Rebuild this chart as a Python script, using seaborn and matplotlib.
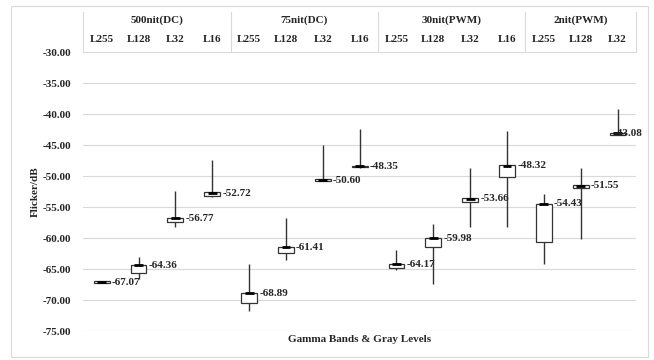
import numpy as np
import pandas as pd
import seaborn as sns
import matplotlib.pyplot as plt
from matplotlib.patches import Rectangle
from matplotlib.lines import Line2D

# Data
groups = ["500nit(DC)", "75nit(DC)", "30nit(PWM)", "2nit(PWM)"]
group_levels = [["L255", "L128", "L32", "L16"],
                ["L255", "L128", "L32", "L16"],
                ["L255", "L128", "L32", "L16"],
                ["L255", "L128", "L32"]]
labels = [-67.07, -64.36, -56.77, -52.72, -68.89, -61.41, -50.60, -48.35,
          -64.17, -59.98, -53.66, -48.32, -54.43, -51.55, -43.08]
box_top = [-66.95, -64.30, -56.75, -52.60, -68.85, -61.35, -50.50, -48.30,
           -64.15, -59.90, -53.50, -48.20, -54.40, -51.45, -42.95]
box_bot = [-67.15, -65.60, -57.40, -53.10, -70.40, -62.40, -50.75, -48.55,
           -64.75, -61.45, -54.10, -50.10, -60.65, -51.90, -43.40]
high = [-66.95, -63.00, -52.30, -47.30, -64.10, -56.70, -45.00, -42.40,
        -61.90, -57.70, -48.60, -42.70, -52.85, -48.60, -39.20]
low = [-67.15, -66.60, -58.20, -53.30, -71.80, -63.50, -50.80, -48.60,
       -65.10, -67.30, -58.10, -58.10, -64.15, -60.10, -43.40]
y_ticks = [-30, -35, -40, -45, -50, -55, -60, -65, -70, -75]

df = pd.DataFrame({"label": labels, "top": box_top, "bot": box_bot,
                   "high": high, "low": low})
df["x"] = np.arange(len(df))

sns.set_theme(style="white")
plt.rcParams["font.family"] = ["Liberation Serif", "DejaVu Serif"]
plt.rcParams["font.weight"] = "bold"

W, H = 654, 360
fig = plt.figure(figsize=(W / 100, H / 100), dpi=100)
L, R, T, B = 83.3, 636, 52.3, 331.3
ax = fig.add_axes([L / W, 1 - B / H, (R - L) / W, (B - T) / H])

# outer chart border
fig.patches.append(Rectangle((11 / W, 3 / H), 637 / W, 351 / H, transform=fig.transFigure,
                             fill=False, edgecolor="#d9d9d9", lw=0.8))

ax.set_xlim(-0.5, len(df) - 0.5)
ax.set_ylim(-75, -30)
for v in y_ticks:
    ax.axhline(v, color="#d9d9d9", lw=0.8, zorder=0)

bw = 0.43
ax.vlines(df["x"], df["low"], df["high"], color="#333333", lw=1.0, zorder=2)
ax.bar(df["x"], df["top"] - df["bot"], bottom=df["bot"], width=bw,
       color="white", edgecolor="#333333", lw=0.9, zorder=3)
ax.hlines(df["label"], df["x"] - 0.12, df["x"] + 0.12, color="black", lw=2.0, zorder=4)
xmax_label = len(df) - 1 - 0.1  # Excel pulls the last label back inside the chart
for _, r in df.iterrows():
    tx = min(r["x"] + bw / 2 + 0.06, xmax_label)
    ax.text(tx, r["label"], f"{r['label']:.2f}", fontsize=8,
            fontweight="bold", va="center", ha="left", zorder=5)

ax.set_yticks(y_ticks)
ax.set_yticklabels([f"{v:.2f}" for v in y_ticks], fontsize=8, fontweight="bold")
ax.tick_params(axis="y", length=0, pad=9)
ax.set_xticks([])
sns.despine(ax=ax, left=True, bottom=True)
ax.set_ylabel("Flicker/dB", fontsize=8, fontweight="bold", labelpad=2)

# header table
def fx(px):
    return px / W

def fy(py):
    return 1 - py / H

cw = (R - L) / len(df)
pos = 0
bounds = [L]
for g, lv in zip(groups, group_levels):
    x0 = L + pos * cw
    x1 = L + (pos + len(lv)) * cw
    fig.text(fx((x0 + x1) / 2), fy(20), g, fontsize=8, fontweight="bold", ha="center", va="center")
    for k, name in enumerate(lv):
        fig.text(fx(L + (pos + k + 0.5) * cw), fy(39.5), name, fontsize=8, fontweight="bold",
                 ha="center", va="center")
    pos += len(lv)
    bounds.append(x1)
for bx in bounds:
    fig.add_artist(Line2D([fx(bx), fx(bx)], [fy(12), fy(52.3)], color="#d9d9d9", lw=0.8))

fig.text(fx(360), fy(340), "Gamma Bands & Gray Levels", fontsize=8, fontweight="bold",
         ha="center", va="center")

fig.savefig("out.png", dpi=100)
